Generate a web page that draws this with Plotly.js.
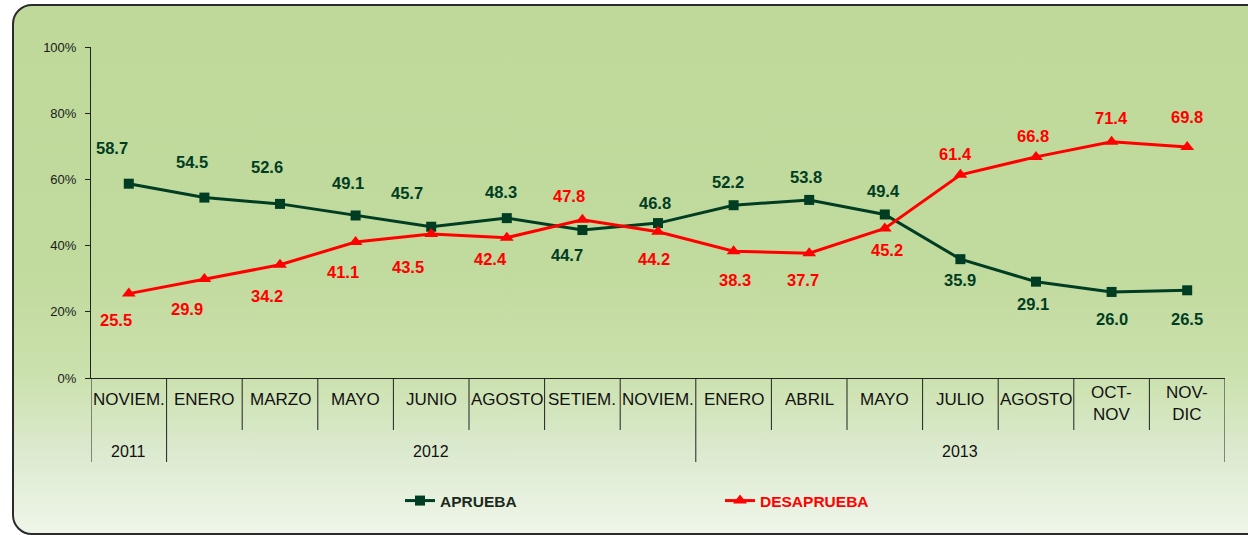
<!DOCTYPE html>
<html><head><meta charset="utf-8">
<script src="https://cdn.plot.ly/plotly-3.0.1.min.js"></script>
<style>
html,body{margin:0;padding:0;background:#fff;width:1248px;height:535px;overflow:hidden}
#wrap{position:relative;width:1248px;height:535px}
#bg{position:absolute;left:12px;top:4px;width:1260px;height:527px;border:2px solid #2b2b2b;border-radius:20px;
background:linear-gradient(to bottom,#bfd99b 0%,#c1da9d 50%,#cbe1ad 70%,#dcead0 85%,#eff6e9 100%)}
#chart{position:absolute;left:0;top:0;width:1248px;height:535px}
</style></head>
<body><div id="wrap"><div id="bg"></div><div id="chart"></div></div>
<script>
// ---- data ----
const months = ['NOVIEM.','ENERO','MARZO','MAYO','JUNIO','AGOSTO','SETIEM.','NOVIEM.','ENERO','ABRIL','MAYO','JULIO','AGOSTO','OCT-\nNOV','NOV-\nDIC'];
const years  = ['2011','2012','2012','2012','2012','2012','2012','2012','2013','2013','2013','2013','2013','2013','2013'];
const aprueba    = [58.7,54.5,52.6,49.1,45.7,48.3,44.7,46.8,52.2,53.8,49.4,35.9,29.1,26.0,26.5];
const desaprueba = [25.5,29.9,34.2,41.1,43.5,42.4,47.8,44.2,38.3,37.7,45.2,61.4,66.8,71.4,69.8];
const yTicks = [0,20,40,60,80,100];

// ---- label placement (style: pixel offsets of the value labels) ----
const aprDY = [36,36,37,32,34,26,-25,20,23,23,23,-21,-22,-27,-29];
const aprDX = [-17,-12,-13,-8,-24,-6,-15,-3,-6,-3,-1,0,-3,0,0];
const desDY = [-26,-30,-31,-30,-33,-21,24,-27,-29,-27,-22,21,21,24,30];
const desDX = [-13,-17,-13,-13,-23,-16,-13,-4,1,-6,2,-5,-3,0,0];

const GREEN = '#003d22', RED = '#ff0000', FONT = 'Liberation Sans, Arial, sans-serif';
const W = 1248, H = 535, ML = 91, MR = 23, MT = 47, MB = 157;
const plotH = H - MT - MB;
const xs = months.map((_, i) => i);

const traces = [
  {x: xs, y: aprueba, type: 'scatter', mode: 'lines+markers', name: 'APRUEBA',
   line: {color: GREEN, width: 3}, marker: {symbol: 'square', size: 10, color: GREEN}},
  {x: xs, y: desaprueba, type: 'scatter', mode: 'lines+markers',
   name: '<span style="color:#ff0000">DESAPRUEBA</span>',
   line: {color: RED, width: 3}, marker: {symbol: 'triangle-up', size: 12, color: RED}}
];

const annotations = [];
aprueba.forEach((v, i) => annotations.push({x: i, y: v, xref: 'x', yref: 'y', text: v.toFixed(1), showarrow: false,
  xshift: aprDX[i], yshift: aprDY[i], font: {family: FONT, size: 16.5, color: GREEN, weight: 'bold'}}));
desaprueba.forEach((v, i) => annotations.push({x: i, y: v, xref: 'x', yref: 'y', text: v.toFixed(1), showarrow: false,
  xshift: desDX[i], yshift: desDY[i], font: {family: FONT, size: 16.5, color: RED, weight: 'bold'}}));

// month labels
months.forEach((m, i) => {
  const lines = m.split('\n');
  annotations.push({x: i, y: 0, xref: 'x', yref: 'paper', text: lines.join('<br>'), showarrow: false,
    yanchor: 'middle', yshift: lines.length === 1 ? -21 : -25, font: {family: FONT, size: 17, color: '#111'}});
});

// year groups
const groups = [];
years.forEach((y, i) => {
  if (!groups.length || groups[groups.length - 1].y !== y) groups.push({y: y, s: i, e: i});
  else groups[groups.length - 1].e = i;
});
groups.forEach(g => annotations.push({x: (g.s + g.e) / 2, y: 0, xref: 'x', yref: 'paper', text: g.y, showarrow: false,
  yanchor: 'middle', yshift: -73, font: {family: FONT, size: 16, color: '#111'}}));

// separator lines
const shortY = -52 / plotH, longY = -84 / plotH;
const groupEdges = new Set();
groups.forEach(g => { groupEdges.add(g.s); groupEdges.add(g.e + 1); });
const shapes = [];
for (let k = 0; k <= months.length; k++) {
  shapes.push({type: 'line', xref: 'x', yref: 'paper', x0: k - 0.5, x1: k - 0.5, y0: 0,
    y1: groupEdges.has(k) ? longY : shortY, line: {color: '#222', width: 1}});
}

const layout = {
  width: W, height: H,
  margin: {l: ML, r: MR, t: MT, b: MB},
  paper_bgcolor: 'rgba(0,0,0,0)', plot_bgcolor: 'rgba(0,0,0,0)',
  font: {family: FONT},
  showlegend: true,
  legend: {orientation: 'h', x: (400 - ML) / (W - ML - MR), xanchor: 'left', y: -123 / plotH, yanchor: 'middle',
    bgcolor: 'rgba(0,0,0,0)', entrywidth: 275, font: {family: FONT, size: 15.5, color: '#1c2a1c', weight: 'bold'}},
  xaxis: {range: [-0.5, months.length - 0.5], showticklabels: false, ticks: '', showgrid: false, zeroline: false,
    showline: true, linecolor: '#222', linewidth: 1, fixedrange: true},
  yaxis: {range: [0, 100], tickvals: yTicks, ticktext: yTicks.map(t => t + '%'), ticks: 'outside', ticklen: 5,
    tickcolor: '#222', showgrid: false, zeroline: false, showline: true, linecolor: '#222', linewidth: 1,
    ticklabelstandoff: 6, tickfont: {family: FONT, size: 13, color: '#1a1a1a'}},
  annotations: annotations,
  shapes: shapes
};
Plotly.newPlot('chart', traces, layout, {displayModeBar: false, staticPlot: true});
</script></body></html>
